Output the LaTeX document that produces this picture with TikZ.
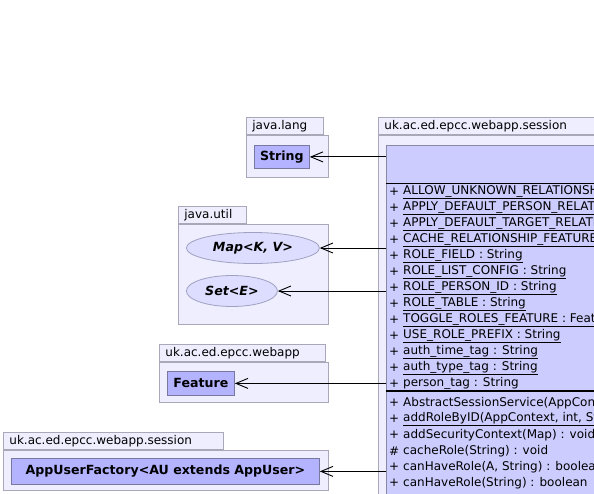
\documentclass[tikz,border=0pt]{standalone}
\usepackage{fontspec}
\setmainfont{DejaVu Sans}
\usetikzlibrary{arrows.meta,positioning,shapes.geometric}
\definecolor{pkgfill}{HTML}{EEEEFF}
\definecolor{pkgdraw}{HTML}{A8A8B8}
\definecolor{clsfill}{HTML}{CCCCFF}
\definecolor{clsdraw}{HTML}{8888A0}
\definecolor{reffill}{HTML}{B3B3FF}
\definecolor{refdraw}{HTML}{7878A0}
\definecolor{ifcfill}{HTML}{DDDDFF}
\definecolor{ifcdraw}{HTML}{A0A0C0}

\begin{document}
\begin{tikzpicture}[
  x=1pt, y=-1pt,
  font=\fontsize{12}{14}\selectfont,
  pkg/.style={rectangle, draw=pkgdraw, fill=pkgfill, line width=0.8pt,
              anchor=north west, inner sep=0pt},
  pkgtab/.style={rectangle, draw=pkgdraw, fill=pkgfill, line width=0.8pt,
                 anchor=south west, inner xsep=6pt, inner ysep=0pt,
                 minimum height=17pt, align=left},
  ref/.style={rectangle, draw=refdraw, fill=reffill, line width=0.8pt,
              anchor=north west, inner sep=0pt, font=\fontsize{12.6}{14}\selectfont\bfseries},
  ifc/.style={ellipse, draw=ifcdraw, fill=ifcfill, line width=0.8pt,
              anchor=west, inner sep=0pt, minimum height=31pt,
              font=\fontsize{12.6}{14}\selectfont\bfseries\itshape},
  cls/.style={rectangle, draw=clsdraw, fill=clsfill, line width=0.8pt,
              anchor=north west, inner sep=0pt},
  vis/.style={anchor=west, inner sep=0pt},
  member/.style={anchor=west, inner sep=0pt},
  dep/.style={draw=black, line width=0.9pt, -{Straight Barb[length=12pt,width=10pt]}}
]
\useasboundingbox (0,0) rectangle (594,493);
\clip (0,0) rectangle (594,493);

% ---------- session package with the class ----------
\node[pkg, minimum width=330, minimum height=380] (sessbody) at (378,135) {};
\node[pkgtab, minimum width=330, text width=318pt] (sesstab) at (sessbody.north west)
  {uk.ac.ed.epcc.webapp.session};
\node[cls, minimum width=320, minimum height=370] (svc) at (386,145) {};
\coordinate (hdr) at (386,183);
\coordinate (sep) at (386,391);
\draw[line width=0.8pt] (hdr) -- ++(320,0);
\draw[line width=1.6pt] (sep) -- ++(320,0);

% attributes (static, underlined)
\foreach \txt [count=\i from 0] in {
  ALLOW\_UNKNOWN\_RELATIONSHIP\_IN\_OR : Feature,
  APPLY\_DEFAULT\_PERSON\_RELATIONSHIP\_FEATURE : Feature,
  APPLY\_DEFAULT\_TARGET\_RELATIONSHIP\_FEATURE : Feature,
  CACHE\_RELATIONSHIP\_FEATURE : Feature,
  ROLE\_FIELD : String,
  ROLE\_LIST\_CONFIG : String,
  ROLE\_PERSON\_ID : String,
  ROLE\_TABLE : String,
  TOGGLE\_ROLES\_FEATURE : Feature,
  USE\_ROLE\_PREFIX : String,
  auth\_time\_tag : String,
  auth\_type\_tag : String,
  person\_tag : String}
{
  \node[vis] (av\i) at (389,192+16*\i) {+};
  \node[member] (am\i) at (403,192+16*\i) {\underline{\txt}};
}

% methods
\foreach \v/\txt [count=\i from 0] in {
  +/{AbstractSessionService(AppContext)},
  {+/\underline{addRoleByID(AppContext, int, String) : void}},
  +/{addSecurityContext(Map) : void},
  \#/{cacheRole(String) : void},
  {+/canHaveRole(A, String) : boolean},
  +/{canHaveRole(String) : boolean}}
{
  \node[vis] (mv\i) at (389,403+16*\i) {\v};
  \node[member] (mm\i) at (403,403+16*\i) {\txt};
}

% ---------- java.lang ----------
\node[pkg, minimum width=82, minimum height=42] (langbody) at (246,135) {};
\node[pkgtab, minimum width=77, text width=65pt] (langtab) at (langbody.north west) {java.lang};
\node[ref, minimum width=55, minimum height=23] (str) at (254,145) {String};

% ---------- java.util ----------
\node[pkg, minimum width=150, minimum height=100] (utilbody) at (178,224) {};
\node[pkgtab, minimum width=68, text width=56pt] (utiltab) at (utilbody.north west) {java.util};
\node[ifc, minimum width=133] (map) at (186,248) {Map<K, V>};
\node[ifc, minimum width=91] (set) at (186,291) {Set<E>};

% ---------- uk.ac.ed.epcc.webapp ----------
\node[pkg, minimum width=169, minimum height=40] (webbody) at (159,362) {};
\node[pkgtab, minimum width=166, text width=154pt] (webtab) at (webbody.north west) {uk.ac.ed.epcc.webapp};
\node[ref, minimum width=67, minimum height=24] (feat) at (167,371) {Feature};

% ---------- uk.ac.ed.epcc.webapp.session ----------
\node[pkg, minimum width=325, minimum height=40] (facbody) at (3,450) {};
\node[pkgtab, minimum width=220, text width=208pt] (factab) at (facbody.north west) {uk.ac.ed.epcc.webapp.session};
\node[ref, minimum width=308, minimum height=26] (fac) at (11,458) {AppUserFactory<AU extends AppUser>};

% ---------- dependencies ----------
\draw[dep] (str.east -| svc.west) -- (str.east);
\draw[dep] (map.east -| svc.west) -- (map.east);
\draw[dep] (set.east -| svc.west) -- (set.east);
\draw[dep] (feat.east -| svc.west) -- (feat.east);
\draw[dep] (fac.east -| svc.west) -- (fac.east);

\end{tikzpicture}
\end{document}
